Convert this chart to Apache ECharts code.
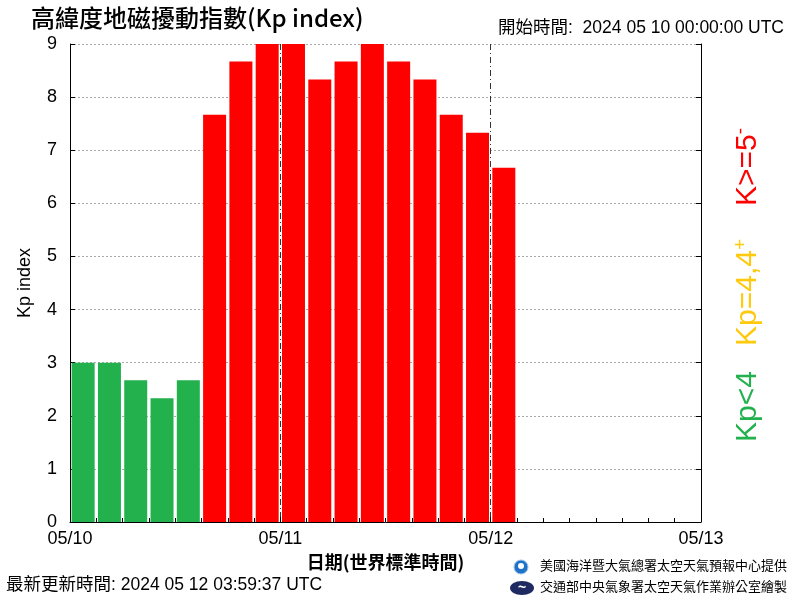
<!DOCTYPE html>
<html><head><meta charset="utf-8">
<script src="https://cdn.jsdelivr.net/npm/echarts@6/dist/echarts.min.js"></script>
<style>html,body{margin:0;padding:0;background:#fff}#c{width:800px;height:600px}</style>
</head><body><div id="c"></div>
<script>
// 3-hour interval mid-points (hours from 2024-05-10 00:00 UTC)
const hours = [1.5,4.5,7.5,10.5,13.5,16.5,19.5,22.5,25.5,28.5,31.5,34.5,37.5,40.5,43.5,46.5,49.5];
const kpValues = [3,3,2.67,2.33,2.67,7.67,8.67,9,9,8.33,8.67,9,8.67,8.33,7.67,7.33,6.67];
const dayLabels = ['05/10','05/11','05/12','05/13'];
const yTicks = [0,1,2,3,4,5,6,7,8,9];

const CJK = '"Noto Sans CJK TC", "Noto Sans", sans-serif';
const LAT = '"Liberation Sans", Arial, sans-serif';
const MIX = '"Liberation Sans", "Noto Sans CJK TC", sans-serif';
const GREEN = '#22b14c', YELLOW = '#ffc90e', RED = '#ff0000';

function vlabel(y, main, sup, color) {
  return {type: 'text', x: 731, y: y, rotation: Math.PI / 2,
    style: {text: '{a|' + main + '}' + (sup ? '{s|' + sup + '}' : ''), fill: color,
      rich: {a: {fontSize: 30, fontFamily: LAT, fill: color, lineHeight: 34},
             s: {fontSize: 19, fontFamily: LAT, fill: color, verticalAlign: 'top', lineHeight: 34}}}};
}

const chart = echarts.init(document.getElementById('c'));
chart.setOption({
  animation: false,
  backgroundColor: '#fff',
  grid: {left: 70, right: 99, top: 44, bottom: 78},
  xAxis: {
    type: 'value', min: 0, max: 72, interval: 24,
    axisLine: {show: true, lineStyle: {color: '#000', width: 1}},
    axisTick: {show: true, inside: true, length: 5, lineStyle: {color: '#000'}},
    minorTick: {show: true, splitNumber: 8, length: 4, lineStyle: {color: '#000'}},
    axisLabel: {color: '#000', fontSize: 18, fontFamily: LAT, margin: 8,
      formatter: v => dayLabels[Math.round(v / 24)]},
    splitLine: {show: true, lineStyle: {color: '#333', width: 1, type: [6, 3, 1, 3]}},
    name: '日期(世界標準時間)', nameLocation: 'middle', nameGap: 30,
    nameTextStyle: {color: '#000', fontSize: 18, fontFamily: CJK, fontWeight: 'bold'}
  },
  yAxis: [{
    type: 'value', min: 0, max: 9, interval: 1,
    axisLine: {show: true, lineStyle: {color: '#000', width: 1}},
    axisTick: {show: true, inside: true, length: 5, lineStyle: {color: '#000'}},
    axisLabel: {color: '#000', fontSize: 18, fontFamily: LAT, margin: 13,
      formatter: v => String(yTicks[Math.round(v)])},
    splitLine: {show: true, lineStyle: {color: '#aaa', width: 1, type: [2, 2]}},
    name: 'Kp index', nameLocation: 'middle', nameGap: 36, nameRotate: 90,
    nameTextStyle: {color: '#000', fontSize: 18, fontFamily: LAT}
  }, {
    type: 'value', min: 0, max: 9, interval: 1, position: 'right',
    axisLine: {show: true, lineStyle: {color: '#000', width: 1}},
    axisTick: {show: true, inside: true, length: 5, lineStyle: {color: '#000'}},
    axisLabel: {show: false}, splitLine: {show: false}
  }],
  series: [{
    type: 'bar', barWidth: 23,
    data: hours.map((h, i) => [h, kpValues[i]]),
    itemStyle: {color: p => p.value[1] >= 5 ? RED : (p.value[1] >= 4 ? YELLOW : GREEN)}
  }],
  graphic: [
    {type: 'text', left: 31, top: 6, style: {text: '高緯度地磁擾動指數(Kp index)', fill: '#000', font: '500 24px ' + CJK}},
    {type: 'text', right: 16, top: 19, style: {text: '開始時間:  2024 05 10 00:00:00 UTC', fill: '#000', font: '17.5px ' + MIX}},
    {type: 'text', left: 6, top: 576, style: {text: '最新更新時間: 2024 05 12 03:59:37 UTC', fill: '#000', font: '17.5px ' + MIX}},
    vlabel(442, 'Kp<4', '', GREEN),
    vlabel(346, 'Kp=4,4', '+', YELLOW),
    vlabel(206, 'K>=5', '-', RED),
    {type: 'circle', shape: {cx: 521, cy: 567, r: 7}, style: {fill: '#1e73c8', stroke: '#9cc4ea', lineWidth: 1}},
    {type: 'circle', shape: {cx: 521, cy: 566, r: 3}, style: {fill: '#fff'}},
    {type: 'ellipse', shape: {cx: 522, cy: 588, rx: 12, ry: 7}, style: {fill: '#1f2a63'}},
    {type: 'text', x: 522, y: 588, style: {text: '~', fill: '#fff', font: 'bold 14px ' + LAT, align: 'center', verticalAlign: 'middle'}},
    {type: 'text', left: 540, top: 559, style: {text: '美國海洋暨大氣總署太空天氣預報中心提供', fill: '#000', font: '13px ' + CJK}},
    {type: 'text', left: 540, top: 580, style: {text: '交通部中央氣象署太空天氣作業辦公室繪製', fill: '#000', font: '13px ' + CJK}}
  ]
});
</script></body></html>
